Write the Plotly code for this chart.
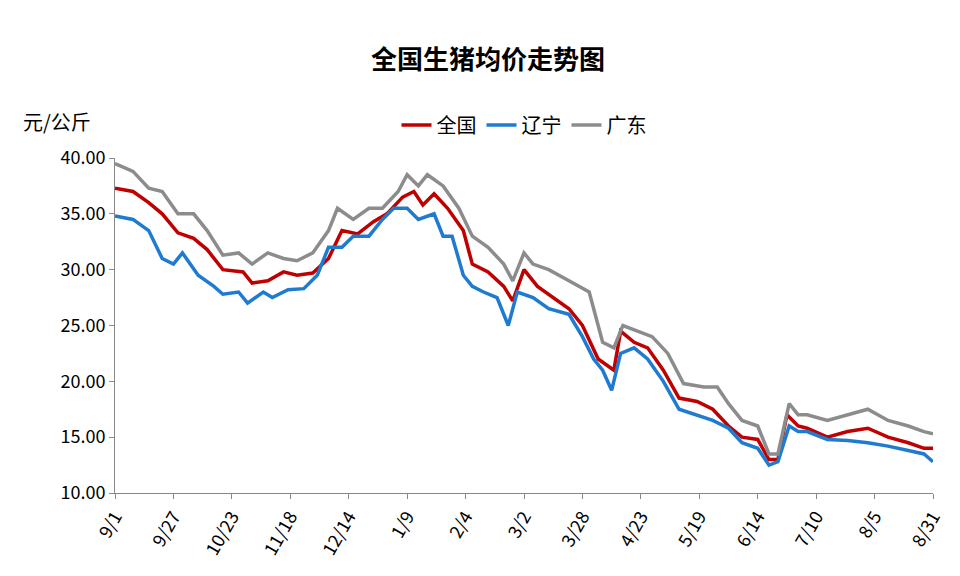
import plotly.graph_objects as go

tick_days = [0, 26, 52, 78, 104, 130, 156, 182, 208, 234, 260, 286, 312, 338, 364]
tick_labels = ["9/1", "9/27", "10/23", "11/18", "12/14", "1/9", "2/4", "3/2", "3/28",
               "4/23", "5/19", "6/14", "7/10", "8/5", "8/31"]

nat_days = [0, 8, 15, 21, 28, 35, 41, 48, 57, 61, 68, 75, 81, 88, 95, 101, 108, 115, 121, 128, 133, 137, 142,
            148, 155, 159, 166, 173, 177, 182, 188, 195, 202, 208, 215, 222, 225, 231, 237, 244, 251, 259, 266,
            273, 279, 286, 291, 295, 299, 304, 308, 317, 326, 335, 344, 353, 360, 364]
nat_vals = [37.3, 37.0, 36.0, 35.0, 33.3, 32.8, 31.8, 30.0, 29.8, 28.8, 29.0, 29.8, 29.5, 29.7, 31.0, 33.5, 33.2,
            34.3, 35.0, 36.5, 37.0, 35.8, 36.8, 35.5, 33.5, 30.5, 29.8, 28.5, 27.2, 30.0, 28.5, 27.5, 26.5, 25.0,
            22.0, 21.0, 24.5, 23.5, 23.0, 21.0, 18.5, 18.2, 17.5, 16.0, 15.0, 14.8, 13.0, 13.0, 17.0, 16.0, 15.8,
            15.0, 15.5, 15.8, 15.0, 14.5, 14.0, 14.0]

ln_days = [0, 8, 15, 21, 26, 30, 37, 44, 48, 55, 59, 66, 70, 77, 84, 90, 95, 101, 106, 113, 119, 124, 130, 135,
           142, 146, 150, 155, 159, 164, 170, 175, 179, 186, 193, 202, 208, 213, 217, 221, 225, 231, 237, 244,
           251, 259, 266, 273, 279, 286, 291, 295, 300, 304, 308, 317, 326, 335, 344, 353, 360, 364]
ln_vals = [34.8, 34.5, 33.5, 31.0, 30.5, 31.5, 29.5, 28.5, 27.8, 28.0, 27.0, 28.0, 27.5, 28.2, 28.3, 29.5, 32.0,
           32.0, 33.0, 33.0, 34.5, 35.5, 35.5, 34.5, 35.0, 33.0, 33.0, 29.5, 28.5, 28.0, 27.5, 25.0, 28.0, 27.5,
           26.5, 26.0, 24.0, 22.0, 21.0, 19.2, 22.5, 23.0, 22.0, 20.0, 17.5, 17.0, 16.5, 15.8, 14.5, 14.0, 12.5,
           12.8, 16.0, 15.5, 15.5, 14.8, 14.7, 14.5, 14.2, 13.8, 13.5, 12.8]

gd_days = [0, 8, 15, 21, 28, 35, 41, 48, 55, 61, 68, 75, 81, 88, 95, 99, 106, 113, 119, 126, 130, 135, 139, 146,
           153, 159, 166, 173, 177, 182, 186, 193, 202, 211, 217, 222, 226, 233, 239, 246, 253, 262, 268, 273,
           279, 286, 291, 295, 300, 304, 308, 317, 326, 335, 344, 353, 360, 364]
gd_vals = [39.5, 38.8, 37.3, 37.0, 35.0, 35.0, 33.5, 31.3, 31.5, 30.5, 31.5, 31.0, 30.8, 31.5, 33.5, 35.5, 34.5,
           35.5, 35.5, 37.0, 38.5, 37.5, 38.5, 37.5, 35.5, 33.0, 32.0, 30.5, 29.0, 31.5, 30.5, 30.0, 29.0, 28.0,
           23.5, 23.0, 25.0, 24.5, 24.0, 22.5, 19.8, 19.5, 19.5, 18.0, 16.5, 16.0, 13.5, 13.5, 18.0, 17.0, 17.0,
           16.5, 17.0, 17.5, 16.5, 16.0, 15.5, 15.3]

fig = go.Figure()
for name, d, v, c in [("全国", nat_days, nat_vals, "#C00000"),
                      ("辽宁", ln_days, ln_vals, "#1F7BD0"),
                      ("广东", gd_days, gd_vals, "#8C8C8C")]:
    fig.add_trace(go.Scatter(x=d, y=v, mode="lines", name=name,
                             line=dict(color=c, width=3.5)))

font = "Noto Sans CJK SC"
fig.update_layout(
    width=960, height=576, paper_bgcolor="white", plot_bgcolor="white",
    margin=dict(l=107, r=35, t=150, b=91),
    font=dict(family=font, size=18, color="black"),
    title=dict(text="<b>全国生猪均价走势图</b>", x=0.5, y=0.925, xanchor="center",
               font=dict(size=26, family=font)),
    legend=dict(orientation="h", x=0.5, xanchor="center", y=1.04, yanchor="bottom",
                font=dict(size=20)),
    showlegend=True,
    annotations=[dict(text="元/公斤", x=-0.115, y=1.11, xref="paper", yref="paper",
                      xanchor="left", yanchor="middle", showarrow=False, font=dict(size=20))],
)
fig.update_xaxes(range=[0, 364], tickvals=tick_days, ticktext=tick_labels, tickangle=-60,
                 showgrid=False, showline=True, linecolor="#888", ticks="outside",
                 tickcolor="#888", ticklen=5, tickfont=dict(size=18))
fig.update_yaxes(range=[10, 40], dtick=5, tickformat=".2f", showgrid=False, showline=True,
                 linecolor="#888", ticks="outside", tickcolor="#888", ticklen=5,
                 tickfont=dict(size=18))
fig.write_html("out.html")
